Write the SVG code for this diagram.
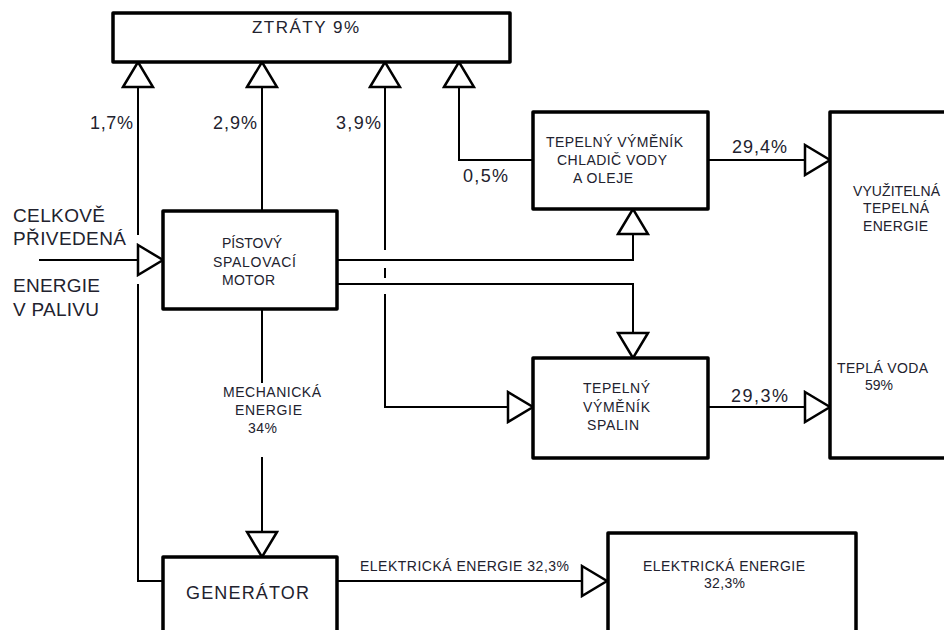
<svg xmlns="http://www.w3.org/2000/svg" width="944" height="630" viewBox="0 0 944 630">
<style>
.box{fill:#fff;stroke:#000;stroke-width:3.5;stroke-linejoin:round}
.ln{fill:none;stroke:#000;stroke-width:2}
.t{font-family:"Liberation Sans",Arial,sans-serif;fill:#22222e}
.s{font-size:14px}
.b{font-size:18px}
.c{text-anchor:middle}
</style>
<defs>
<marker id="tri" viewBox="-2 -2 29 34" refX="25" refY="15" markerWidth="29" markerHeight="34" markerUnits="userSpaceOnUse" orient="auto">
<path d="M0,0 L25,15 L0,30 Z" fill="#fff" stroke="#000" stroke-width="2.5" stroke-linejoin="miter"/>
</marker>
</defs>
<rect width="944" height="630" fill="#fff"/>

<g id="connectors">
<path class="ln" d="M39,260 H163" marker-end="url(#tri)"/>
<path class="ln" d="M163,581 H138 V284"/>
<path class="ln" d="M138,235 V62" marker-end="url(#tri)"/>
<path class="ln" d="M262,211 V62" marker-end="url(#tri)"/>
<path class="ln" d="M385,250 V62" marker-end="url(#tri)"/>
<path class="ln" d="M385,268 V278"/>
<path class="ln" d="M385,294 V407 H533" marker-end="url(#tri)"/>
<path class="ln" d="M533,160 H459 V62" marker-end="url(#tri)"/>
<path class="ln" d="M708,160 H830" marker-end="url(#tri)"/>
<path class="ln" d="M337,260 H633 V209" marker-end="url(#tri)"/>
<path class="ln" d="M337,284 H633 V358" marker-end="url(#tri)"/>
<path class="ln" d="M708,407 H830" marker-end="url(#tri)"/>
<path class="ln" d="M262,309 V383"/>
<path class="ln" d="M262,457 V557" marker-end="url(#tri)"/>
<path class="ln" d="M337,581 H607" marker-end="url(#tri)"/>
<g id="connector-labels">
<text class="t" x="13" y="222" font-size="19" textLength="92">CELKOVĚ</text>
<text class="t" x="13" y="245" font-size="19" textLength="113">PŘIVEDENÁ</text>
<text class="t" x="13" y="292" font-size="19" textLength="87">ENERGIE</text>
<text class="t" x="13" y="316" font-size="19" textLength="86">V PALIVU</text>
<text class="t b" x="90" y="129" textLength="43">1,7%</text>
<text class="t b" x="213" y="129" textLength="44">2,9%</text>
<text class="t b" x="336" y="129" textLength="45">3,9%</text>
<text class="t b" x="463" y="182" textLength="45">0,5%</text>
<text class="t b" x="732" y="153" textLength="55">29,4%</text>
<text class="t b" x="731" y="402" textLength="57">29,3%</text>
<text class="t s" x="223" y="397" textLength="98">MECHANICKÁ</text>
<text class="t s" x="235" y="415" textLength="67">ENERGIE</text>
<text class="t s" x="248" y="433" textLength="29">34%</text>
<text class="t s" x="360" y="571" textLength="209">ELEKTRICKÁ ENERGIE 32,3%</text>
</g>
</g>

<g id="ztraty">
<rect class="box" x="113" y="13" width="397" height="49"/>
<text class="t" x="252" y="33" font-size="17" textLength="107">ZTRÁTY 9%</text>
</g>

<g id="motor">
<rect class="box" x="163" y="211" width="174" height="98"/>
<text class="t s" x="222" y="248" textLength="60">PÍSTOVÝ</text>
<text class="t s" x="213" y="267" textLength="83">SPALOVACÍ</text>
<text class="t s" x="222" y="285" textLength="53">MOTOR</text>
</g>

<g id="vymenik-chladic">
<rect class="box" x="533" y="112" width="175" height="97"/>
<text class="t s" x="546" y="147" textLength="137">TEPELNÝ VÝMĚNÍK</text>
<text class="t s" x="557" y="165" textLength="110">CHLADIČ VODY</text>
<text class="t s" x="573" y="183" textLength="60">A OLEJE</text>
</g>

<g id="vymenik-spalin">
<rect class="box" x="533" y="358" width="175" height="100"/>
<text class="t s" x="583" y="393" textLength="67">TEPELNÝ</text>
<text class="t s" x="583" y="412" textLength="67">VÝMĚNÍK</text>
<text class="t s" x="587" y="430" textLength="52">SPALIN</text>
</g>

<g id="vyuzitelna">
<rect class="box" x="830" y="112" width="140" height="346"/>
<text class="t s" x="853" y="196" textLength="87">VYUŽITELNÁ</text>
<text class="t s" x="863" y="213" textLength="66">TEPELNÁ</text>
<text class="t s" x="863" y="231" textLength="65">ENERGIE</text>
<text class="t s" x="837" y="373" textLength="91">TEPLÁ VODA</text>
<text class="t s" x="865" y="390" textLength="28">59%</text>
</g>

<g id="generator">
<rect class="box" x="163" y="557" width="174" height="100"/>
<text class="t b" x="186" y="599" textLength="123">GENERÁTOR</text>
</g>

<g id="elektricka">
<rect class="box" x="608" y="533" width="248" height="120"/>
<text class="t s" x="643" y="571" textLength="162">ELEKTRICKÁ ENERGIE</text>
<text class="t s" x="704" y="588" textLength="41">32,3%</text>
</g>
</svg>
